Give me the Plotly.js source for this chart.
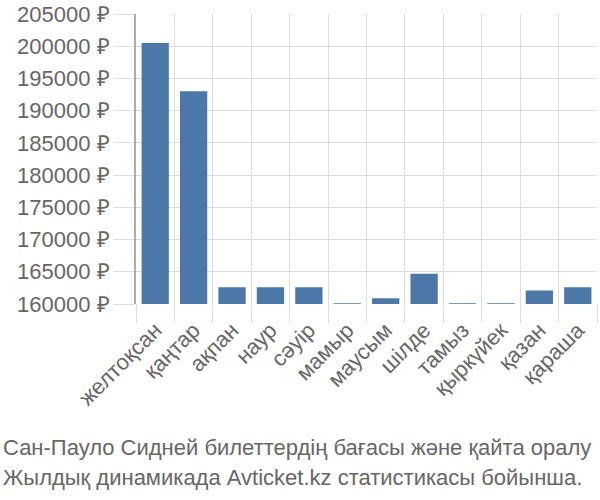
<!DOCTYPE html>
<html>
<head>
<meta charset="utf-8">
<script src="https://cdn.plot.ly/plotly-3.0.1.min.js"></script>
<style>html,body{margin:0;padding:0;background:#fff;}#chart{width:600px;height:500px;}</style>
</head>
<body>
<div id="chart"></div>
<script>
const months = ["желтоқсан","қаңтар","ақпан","наур","сәуір","мамыр","маусым","шілде","тамыз","қыркүйек","қазан","қараша"];
const prices = [200500, 193000, 162600, 162600, 162600, 160100, 160900, 164700, 160100, 160100, 162100, 162600];
const yTicks = [160000,165000,170000,175000,180000,185000,190000,195000,200000,205000];
const yTickLabels = yTicks.map(v => v + " ₽");
const titleLines = ["Сан-Пауло Сидней билеттердің бағасы және қайта оралу", "Жылдық динамикада Avticket.kz статистикасы бойынша."];

const trace = {
  type: "bar",
  x: months,
  y: prices,
  marker: {color: "#4c78a8"},
  hoverinfo: "x+y"
};

const ML = 136, MR = 3, MT = 14, MB = 196, W = 600, H = 500;
const pw = W - ML - MR, ph = H - MT - MB;
const titleY = [447, 477];

const layout = {
  width: W, height: H,
  margin: {l: ML, r: MR, t: MT, b: MB},
  paper_bgcolor: "#fff", plot_bgcolor: "#fff",
  bargap: 0.29,
  showlegend: false,
  font: {family: "Liberation Sans, Arial, sans-serif", color: "#666"},
  annotations: titleLines.map((t, i) => ({
    text: t, showarrow: false,
    xref: "paper", yref: "paper",
    x: (1 - ML) / pw, xanchor: "left",
    y: -(titleY[i] - (H - MB)) / ph, yanchor: "middle",
    font: {size: 22, color: "#666", family: "Liberation Sans, Arial, sans-serif"}
  })),
  xaxis: {
    type: "category",
    tickson: "boundaries",
    ticks: "outside", ticklen: 18, tickcolor: "#ddd", tickwidth: 1,
    showgrid: true, gridcolor: "#ddd",
    tickangle: -45,
    ticklabelstandoff: 8,
    tickfont: {size: 22, color: "#666"},
    showline: false, zeroline: false,
    fixedrange: true
  },
  yaxis: {
    range: [160000, 205000],
    tickvals: yTicks, ticktext: yTickLabels,
    ticks: "outside", ticklen: 20, tickcolor: "#ddd",
    showgrid: true, gridcolor: "#ddd",
    showline: true, linecolor: "#aaa", linewidth: 2,
    tickfont: {size: 22, color: "#666"},
    zeroline: false,
    fixedrange: true
  }
};

Plotly.newPlot("chart", [trace], layout, {displayModeBar: false, staticPlot: true});
</script>
</body>
</html>
